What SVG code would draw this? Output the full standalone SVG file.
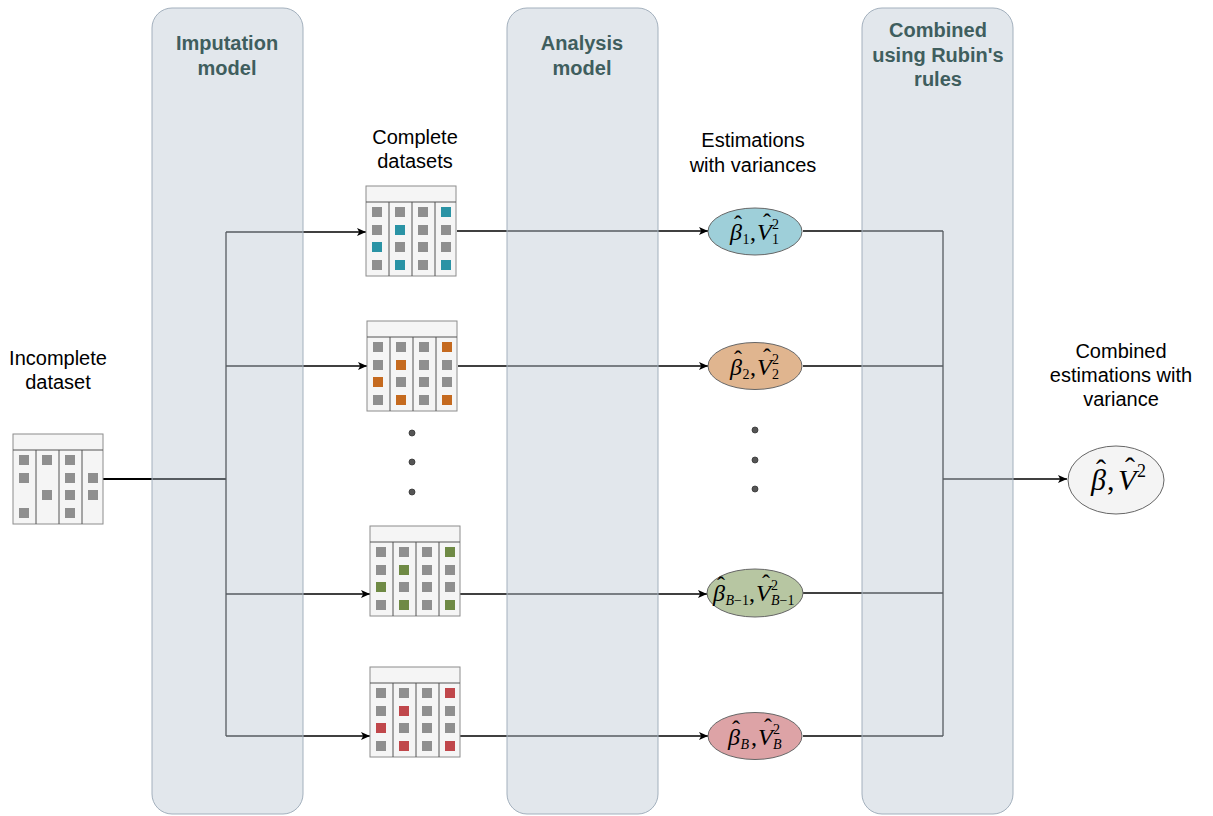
<svg xmlns="http://www.w3.org/2000/svg" xmlns:xlink="http://www.w3.org/1999/xlink" width="1213" height="816" viewBox="0 0 1213 816">
<style>
.lane{fill:#bfcad5;fill-opacity:0.45;stroke:#a3b0bd;stroke-width:1}
.hdr{font-family:"Liberation Sans",Arial,sans-serif;font-weight:bold;font-size:20px;fill:#3f5e5e;text-anchor:middle}
.lbl{font-family:"Liberation Sans",Arial,sans-serif;font-size:20px;fill:#000;text-anchor:middle}
.math{font-family:"Liberation Serif",serif;font-size:24px;fill:#000}
.i{font-style:italic}
.s{font-size:14px}
.h{font-style:normal}
.conn{fill:none;stroke:#000;stroke-width:1.3}
.frame{fill:#f5f5f5;stroke:#8c8c8c;stroke-width:1}
.div{stroke:#555;stroke-width:1}
.g{fill:#8f8f8f}
.teal{fill:#2a93a5}
.orange{fill:#c56a1f}
.green{fill:#6f8a45}
.red{fill:#c0474b}
.ell{stroke:#666;stroke-width:1}
.dot{fill:#555;stroke:#333;stroke-width:0.8}
</style>
<defs>
<marker id="arr" markerUnits="userSpaceOnUse" markerWidth="10" markerHeight="8" refX="9" refY="4" orient="auto">
<path d="M0,0 L9,4 L0,8 L2.2,4 z" fill="#000"/>
</marker>
<g id="frame">
<rect class="frame" x="0" y="0" width="90" height="90"/>
<line class="div" x1="0" y1="16" x2="90" y2="16"/>
<line class="div" x1="23" y1="16" x2="23" y2="90"/>
<line class="div" x1="46" y1="16" x2="46" y2="90"/>
<line class="div" x1="69" y1="16" x2="69" y2="90"/>
</g>
<g id="grid">
<use xlink:href="#frame"/>
<rect class="g" x="6" y="21" width="10" height="10"/><rect class="g" x="6" y="39" width="10" height="10"/><rect class="g" x="6" y="56" width="10" height="10"/><rect class="g" x="6" y="74" width="10" height="10"/>
<rect class="g" x="29" y="21" width="10" height="10"/><rect class="g" x="29" y="39" width="10" height="10"/><rect class="g" x="29" y="56" width="10" height="10"/><rect class="g" x="29" y="74" width="10" height="10"/>
<rect class="g" x="52" y="21" width="10" height="10"/><rect class="g" x="52" y="39" width="10" height="10"/><rect class="g" x="52" y="56" width="10" height="10"/><rect class="g" x="52" y="74" width="10" height="10"/>
<rect class="g" x="75" y="21" width="10" height="10"/><rect class="g" x="75" y="39" width="10" height="10"/><rect class="g" x="75" y="56" width="10" height="10"/><rect class="g" x="75" y="74" width="10" height="10"/>
</g>
</defs>
<rect width="1213" height="816" fill="#ffffff"/>

<g id="connectors">
<path class="conn" d="M103,479 H226" style="stroke-width:2.2"/>
<path class="conn" d="M226,232 V736"/>
<path class="conn" d="M226,232 H366" marker-end="url(#arr)"/>
<path class="conn" d="M226,366 H367" marker-end="url(#arr)"/>
<path class="conn" d="M226,594 H370" marker-end="url(#arr)"/>
<path class="conn" d="M226,736 H370" marker-end="url(#arr)"/>
<path class="conn" d="M457,231 H708" marker-end="url(#arr)"/>
<path class="conn" d="M458,366 H708" marker-end="url(#arr)"/>
<path class="conn" d="M460,594 H707" marker-end="url(#arr)"/>
<path class="conn" d="M460,736 H708" marker-end="url(#arr)"/>
<path class="conn" d="M803,231 H943"/>
<path class="conn" d="M803,366 H943"/>
<path class="conn" d="M803,593 H943"/>
<path class="conn" d="M803,736 H943"/>
<path class="conn" d="M943,231 V736"/>
<path class="conn" d="M943,479 H1067" marker-end="url(#arr)"/>
</g>

<g id="lane-imputation">
<rect class="lane" x="152" y="8" width="151" height="806" rx="20" ry="20"/>
<text class="hdr" x="227" y="50">Imputation</text>
<text class="hdr" x="227" y="75">model</text>
</g>
<g id="lane-analysis">
<rect class="lane" x="507" y="8" width="151" height="806" rx="20" ry="20"/>
<text class="hdr" x="582" y="50">Analysis</text>
<text class="hdr" x="582" y="75">model</text>
</g>
<g id="lane-combined">
<rect class="lane" x="862" y="8" width="151" height="806" rx="20" ry="20"/>
<text class="hdr" x="938" y="37">Combined</text>
<text class="hdr" x="938" y="62">using Rubin's</text>
<text class="hdr" x="938" y="86">rules</text>
</g>

<g id="incomplete-dataset">
<text class="lbl" x="58" y="365">Incomplete</text>
<text class="lbl" x="58" y="389">dataset</text>
<g transform="translate(13,434)">
<use xlink:href="#frame"/>
<rect class="g" x="6" y="21" width="10" height="10"/><rect class="g" x="6" y="39" width="10" height="10"/><rect class="g" x="6" y="74" width="10" height="10"/>
<rect class="g" x="29" y="21" width="10" height="10"/><rect class="g" x="29" y="56" width="10" height="10"/>
<rect class="g" x="52" y="21" width="10" height="10"/><rect class="g" x="52" y="39" width="10" height="10"/><rect class="g" x="52" y="56" width="10" height="10"/><rect class="g" x="52" y="74" width="10" height="10"/>
<rect class="g" x="75" y="39" width="10" height="10"/><rect class="g" x="75" y="56" width="10" height="10"/>
</g>
</g>

<g id="label-complete">
<text class="lbl" x="415" y="144">Complete</text>
<text class="lbl" x="415" y="168">datasets</text>
</g>

<g id="dataset-1" transform="translate(366,186)">
<use xlink:href="#grid"/>
<rect class="teal" x="6" y="56" width="10" height="10"/><rect class="teal" x="29" y="39" width="10" height="10"/><rect class="teal" x="29" y="74" width="10" height="10"/><rect class="teal" x="75" y="21" width="10" height="10"/><rect class="teal" x="75" y="74" width="10" height="10"/>
</g>
<g id="dataset-2" transform="translate(367,321)">
<use xlink:href="#grid"/>
<rect class="orange" x="6" y="56" width="10" height="10"/><rect class="orange" x="29" y="39" width="10" height="10"/><rect class="orange" x="29" y="74" width="10" height="10"/><rect class="orange" x="75" y="21" width="10" height="10"/><rect class="orange" x="75" y="74" width="10" height="10"/>
</g>
<g id="dataset-3" transform="translate(370,526)">
<use xlink:href="#grid"/>
<rect class="green" x="6" y="56" width="10" height="10"/><rect class="green" x="29" y="39" width="10" height="10"/><rect class="green" x="29" y="74" width="10" height="10"/><rect class="green" x="75" y="21" width="10" height="10"/><rect class="green" x="75" y="74" width="10" height="10"/>
</g>
<g id="dataset-4" transform="translate(370,667)">
<use xlink:href="#grid"/>
<rect class="red" x="6" y="56" width="10" height="10"/><rect class="red" x="29" y="39" width="10" height="10"/><rect class="red" x="29" y="74" width="10" height="10"/><rect class="red" x="75" y="21" width="10" height="10"/><rect class="red" x="75" y="74" width="10" height="10"/>
</g>

<g id="dots-datasets">
<circle class="dot" cx="412" cy="433" r="3"/>
<circle class="dot" cx="412" cy="462" r="3"/>
<circle class="dot" cx="412" cy="492" r="3"/>
</g>

<g id="label-estimations">
<text class="lbl" x="753" y="147">Estimations</text>
<text class="lbl" x="753" y="172">with variances</text>
</g>

<g id="estimate-1">
<ellipse class="ell" cx="755" cy="231.5" rx="47" ry="23.5" fill="#9ecfd9"/>
<text class="math" transform="translate(730,240)"><tspan class="i" x="0" y="0">β</tspan><tspan class="s" x="12.5" y="4">1</tspan><tspan x="20" y="0">,</tspan><tspan class="i" x="27" y="0">V</tspan><tspan class="s" x="42" y="-11">2</tspan><tspan class="s" x="42" y="4">1</tspan><tspan class="h" x="4" y="-8">ˆ</tspan><tspan class="h" x="33" y="-10">ˆ</tspan></text>
</g>
<g id="estimate-2">
<ellipse class="ell" cx="755" cy="366" rx="47" ry="23.5" fill="#e0b58f"/>
<text class="math" transform="translate(730,374.5)"><tspan class="i" x="0" y="0">β</tspan><tspan class="s" x="12.5" y="4">2</tspan><tspan x="20" y="0">,</tspan><tspan class="i" x="27" y="0">V</tspan><tspan class="s" x="42" y="-11">2</tspan><tspan class="s" x="42" y="4">2</tspan><tspan class="h" x="4" y="-8">ˆ</tspan><tspan class="h" x="33" y="-10">ˆ</tspan></text>
</g>
<g id="dots-estimations">
<circle class="dot" cx="755" cy="430" r="3"/>
<circle class="dot" cx="755" cy="460" r="3"/>
<circle class="dot" cx="755" cy="489" r="3"/>
</g>
<g id="estimate-b-1">
<ellipse class="ell" cx="755" cy="593" rx="48" ry="24" fill="#b7c6a2"/>
<text class="math" transform="translate(713,601)"><tspan class="i" x="0" y="0">β</tspan><tspan class="s" x="12.5" y="4"><tspan class="i">B</tspan>−1</tspan><tspan x="36" y="0">,</tspan><tspan class="i" x="43" y="0">V</tspan><tspan class="s" x="58" y="-11">2</tspan><tspan class="s" x="58" y="4"><tspan class="i">B</tspan>−1</tspan><tspan class="h" x="4" y="-8">ˆ</tspan><tspan class="h" x="49" y="-10">ˆ</tspan></text>
</g>
<g id="estimate-b">
<ellipse class="ell" cx="755" cy="736" rx="47" ry="23.5" fill="#dda3a6"/>
<text class="math" transform="translate(728,744.5)"><tspan class="i" x="0" y="0">β</tspan><tspan class="s i" x="12.5" y="4">B</tspan><tspan x="23" y="0">,</tspan><tspan class="i" x="30" y="0">V</tspan><tspan class="s" x="45" y="-11">2</tspan><tspan class="s i" x="45" y="4">B</tspan><tspan class="h" x="4" y="-8">ˆ</tspan><tspan class="h" x="36" y="-10">ˆ</tspan></text>
</g>

<g id="combined-estimate">
<text class="lbl" x="1121" y="358">Combined</text>
<text class="lbl" x="1121" y="382">estimations with</text>
<text class="lbl" x="1121" y="406">variance</text>
<ellipse class="ell" cx="1116" cy="480" rx="48" ry="34" fill="#f4f4f4"/>
<text class="math" style="font-size:30px" transform="translate(1091,490)"><tspan class="i" x="0" y="0">β</tspan><tspan x="16" y="0">,</tspan><tspan class="i" x="27" y="0">V</tspan><tspan x="46" y="-13" style="font-size:18px">2</tspan><tspan class="h" x="5" y="-10">ˆ</tspan><tspan class="h" x="34" y="-12">ˆ</tspan></text>
</g>
</svg>
